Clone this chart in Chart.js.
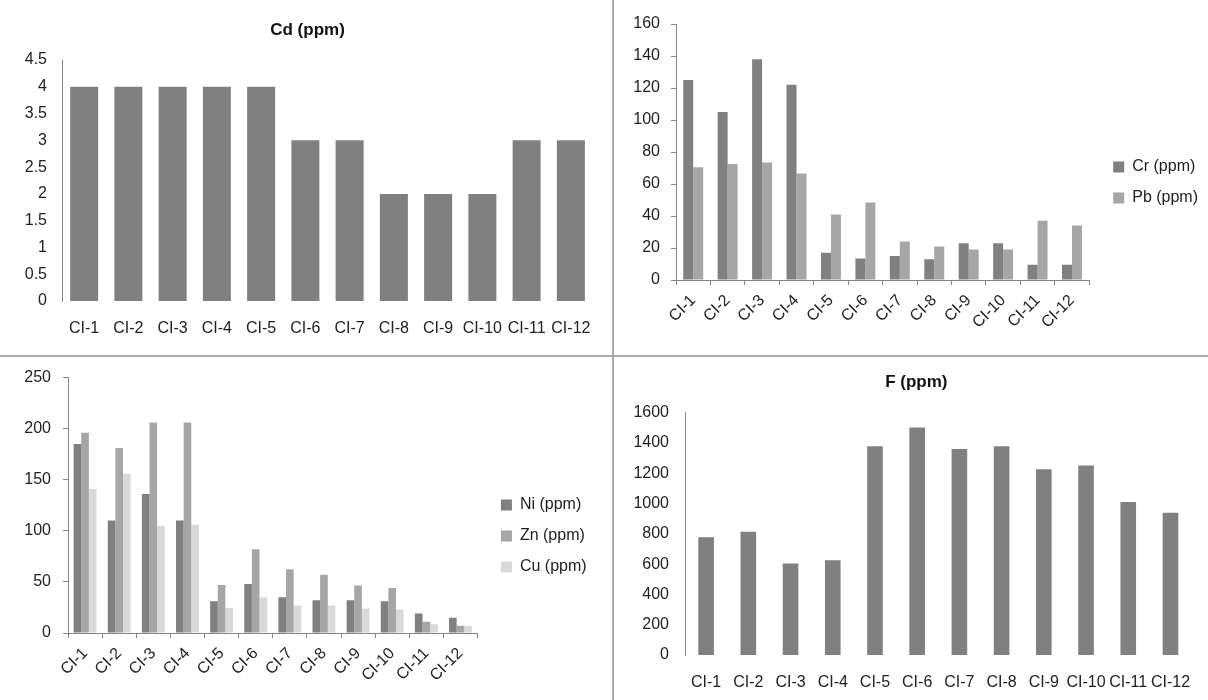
<!DOCTYPE html>
<html>
<head>
<meta charset="utf-8">
<title>Element concentrations</title>
<script src="https://cdn.jsdelivr.net/npm/chart.js@4.4.0/dist/chart.umd.min.js"></script>
<style>
    html, body { margin: 0; padding: 0; background: #fff; overflow: hidden; }
    #page { position: relative; width: 1208px; height: 700px; }
    canvas { position: absolute; }
    .rule { position: absolute; background: #aaaaaa; }
</style>
</head>
<body>
<div id="page">
    <canvas id="cd--chart" width="613" height="356" style="left:0;top:0"></canvas>
    <canvas id="crpb--chart" width="595" height="356" style="left:613px;top:0"></canvas>
    <canvas id="nizncu--chart" width="597" height="344" style="left:0;top:356px"></canvas>
    <canvas id="f--chart" width="595" height="344" style="left:613px;top:356px"></canvas>
    <div class="rule" style="left:612px;top:0;width:2px;height:700px"></div>
    <div class="rule" style="left:0;top:355px;width:1208px;height:2px"></div>
</div>
<script>
'use strict'

const samples = ["CI-1", "CI-2", "CI-3", "CI-4", "CI-5", "CI-6", "CI-7", "CI-8", "CI-9", "CI-10", "CI-11", "CI-12"];

const cd_ppm = [4, 4, 4, 4, 4, 3, 3, 2, 2, 2, 3, 3];
const cr_ppm = [125, 105, 138, 122, 17, 13.5, 15, 13, 23, 23, 9.5, 9.5];
const pb_ppm = [70.5, 72.5, 73.5, 66.5, 41, 48.5, 24, 21, 19, 19, 37, 34];
const ni_ppm = [185, 110, 136, 110, 31, 48, 35, 32, 32, 31, 19, 15];
const zn_ppm = [196, 181, 206, 206, 47, 82, 62.5, 57, 46.5, 44, 11, 7];
const cu_ppm = [141, 156, 105, 106, 24.5, 35, 27, 27, 24, 23, 8.5, 7];
const f_ppm = [777, 814, 605, 625, 1378, 1503, 1360, 1378, 1226, 1252, 1010, 940];

// y axis: [max, step]
const cd_axis = [4.5, 0.5];
const crpb_axis = [160, 20];
const nizncu_axis = [250, 50];
const f_axis = [1600, 200];

const dark = '#808080';
const mid = '#a6a6a6';
const light = '#d9d9d9';
const axis_grey = '#868686';
const text_col = '#222222';

Chart.defaults.font.family = "'Liberation Sans', Arial, sans-serif";
Chart.defaults.font.size = 16;
Chart.defaults.color = text_col;

function fixWidth(w) { return function(scale) { scale.width = w } }
function fixHeight(h) { return function(scale) { scale.height = h } }
function plain(v) { return String(v) }

function yAxis(axis, width, pad, ticks) {
    return {
        min: 0,
        max: axis[0],
        ticks: { stepSize: axis[1], padding: pad, callback: plain },
        grid: ticks ? { drawOnChartArea: false, tickLength: 5, color: axis_grey } : { display: false, drawTicks: false },
        border: { color: axis_grey },
        afterFit: fixWidth(width)
    }
}

// empty axis, only keeps some room between the bars and the legend
function gapAxis(width) {
    return {
        type: 'linear',
        position: 'right',
        grid: { display: false, drawTicks: false },
        border: { display: false },
        ticks: { display: false },
        afterFit: fixWidth(width)
    }
}

// maxWidth: otherwise the layout caps the legend and cuts the text
const legend_right = {
    position: 'right',
    maxWidth: 200,
    labels: { boxWidth: 11, boxHeight: 11, padding: 15, color: text_col }
}

const cd_chart = {
    type: 'bar',
    data: {
        labels: samples,
        datasets: [{ label: 'Cd (ppm)', data: cd_ppm, backgroundColor: dark, barPercentage: 0.633, categoryPercentage: 1 }]
    },
    options: {
        responsive: false,
        animation: false,
        layout: { padding: { left: 22, right: 20, top: 0, bottom: 0 } },
        plugins: {
            legend: { display: false },
            tooltip: { enabled: false },
            title: { display: true, text: 'Cd (ppm)', color: '#111', font: { size: 17, weight: 'bold' }, padding: { top: 20, bottom: 19.6 } }
        },
        scales: {
            x: {
                grid: { display: false, drawTicks: false },
                border: { display: false },
                ticks: { padding: 18, maxRotation: 0, autoSkip: false },
                afterFit: fixHeight(55)
            },
            y: yAxis(cd_axis, 40, 15, false)
        }
    }
}

const crpb_chart = {
    type: 'bar',
    data: {
        labels: samples,
        datasets: [
            { label: 'Cr (ppm)', data: cr_ppm, backgroundColor: dark, barPercentage: 1, categoryPercentage: 0.58 },
            { label: 'Pb (ppm)', data: pb_ppm, backgroundColor: mid, barPercentage: 1, categoryPercentage: 0.58 }
        ]
    },
    options: {
        responsive: false,
        animation: false,
        layout: { padding: { left: 10, right: 0, top: 24, bottom: 15 } },
        plugins: { legend: legend_right, tooltip: { enabled: false } },
        scales: {
            x: {
                grid: { drawOnChartArea: false, tickLength: 5, color: axis_grey },
                border: { color: axis_grey },
                ticks: { minRotation: 45, maxRotation: 45, autoSkip: false, padding: 6 },
                afterFit: fixHeight(61)
            },
            y: yAxis(crpb_axis, 53, 11, true),
            gap: gapAxis(9)
        }
    }
}

const nizncu_chart = {
    type: 'bar',
    data: {
        labels: samples,
        datasets: [
            { label: 'Ni (ppm)', data: ni_ppm, backgroundColor: dark, barPercentage: 1, categoryPercentage: 0.67 },
            { label: 'Zn (ppm)', data: zn_ppm, backgroundColor: mid, barPercentage: 1, categoryPercentage: 0.67 },
            { label: 'Cu (ppm)', data: cu_ppm, backgroundColor: light, barPercentage: 1, categoryPercentage: 0.67 }
        ]
    },
    options: {
        responsive: false,
        animation: false,
        layout: { padding: { left: 10, right: 0.4, top: 19.5, bottom: 3.5 } },
        plugins: { legend: legend_right, tooltip: { enabled: false } },
        scales: {
            x: {
                grid: { drawOnChartArea: false, tickLength: 5, color: axis_grey },
                border: { color: axis_grey },
                ticks: { minRotation: 45, maxRotation: 45, autoSkip: false, padding: 6 },
                afterFit: fixHeight(63.5)
            },
            y: yAxis(nizncu_axis, 58, 12, true),
            gap: gapAxis(8.4)
        }
    }
}

const f_chart = {
    type: 'bar',
    data: {
        labels: samples,
        datasets: [{ label: 'F (ppm)', data: f_ppm, backgroundColor: dark, barPercentage: 0.37, categoryPercentage: 1 }]
    },
    options: {
        responsive: false,
        animation: false,
        layout: { padding: { left: 18, right: 6.4, top: 0, bottom: 0 } },
        plugins: {
            legend: { display: false },
            tooltip: { enabled: false },
            title: { display: true, text: 'F (ppm)', color: '#111', font: { size: 17, weight: 'bold' }, padding: { top: 15.8, bottom: 20.5 } }
        },
        scales: {
            x: {
                grid: { display: false, drawTicks: false },
                border: { display: false },
                ticks: { padding: 17.7, maxRotation: 0, autoSkip: false },
                afterFit: fixHeight(45)
            },
            y: yAxis(f_axis, 54, 16, false)
        }
    }
}

document.addEventListener('DOMContentLoaded', function() {
    new Chart(document.getElementById('cd--chart').getContext('2d'), cd_chart)
    new Chart(document.getElementById('crpb--chart').getContext('2d'), crpb_chart)
    new Chart(document.getElementById('nizncu--chart').getContext('2d'), nizncu_chart)
    new Chart(document.getElementById('f--chart').getContext('2d'), f_chart)
});
</script>
</body>
</html>
